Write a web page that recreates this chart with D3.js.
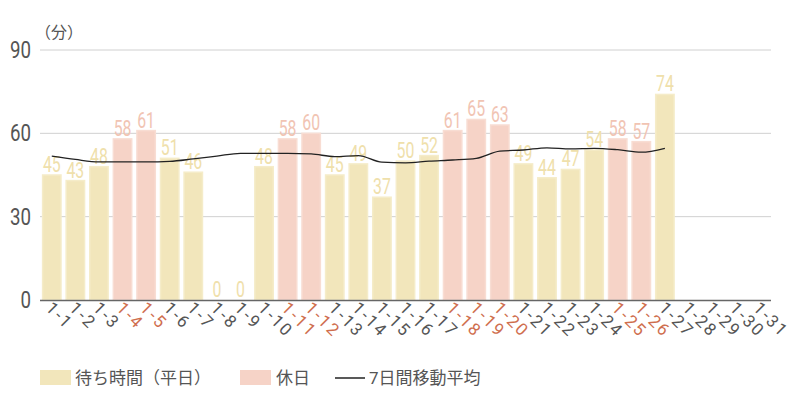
<!DOCTYPE html>
<html>
<head>
<meta charset="utf-8">
<script src="https://cdn.jsdelivr.net/npm/d3@7"></script>
<style>
  body { margin: 0; background: #fff; }
  svg { display: block; font-family: Roboto, "Noto Sans CJK JP", sans-serif; }
</style>
</head>
<body>
<svg id="chart" width="800" height="400"></svg>
<script>
// 1月の日付
const days = d3.range(1, 32).map(d => `1-${d}`)
const holidays = ['1-4', '1-5', '1-11', '1-12', '1-18', '1-19', '1-20', '1-25', '1-26']
// 待ち時間（分）
const waitTimes = [45, 43, 48, 58, 61, 51, 46, 0, 0, 48, 58, 60, 45, 49, 37, 50, 52, 61, 65, 63, 49, 44, 47, 54, 58, 57, 74]
// 7日間移動平均
const movingAvg = [51.8, 50.6, 49.7, 49.7, 49.7, 49.9, 50.8, 51.8, 52.8, 52.8, 52.8, 52.6, 51.6, 52.0, 49.6, 49.4, 50.0, 50.4, 51.0, 53.6, 54.0, 54.8, 54.4, 54.6, 54.1, 53.2, 54.6]
const yTicks = [0, 30, 60, 90]

const svg = d3.select('#chart')
const margin = { left: 40, right: 29, top: 50, bottom: 100 }

const x = d3.scaleBand()
    .domain(days)
    .range([margin.left, 800 - margin.right])
    .paddingInner(0.22)
    .paddingOuter(0.11)

const y = d3.scaleLinear()
    .domain([0, 90])
    .range([300, 50])

const isHoliday = d => holidays.includes(d)
const barColor = d => isHoliday(d) ? '#f6d3c7' : '#f2e6bb'
const labelColor = d => isHoliday(d) ? '#f1c4b3' : '#efe0ab'

// grid
svg.append('g')
  .selectAll('line')
  .data(yTicks.filter(t => t > 0))
  .join('line')
    .attr('x1', margin.left)
    .attr('x2', 800 - margin.right)
    .attr('y1', d => y(d))
    .attr('y2', d => y(d))
    .attr('stroke', '#d0d0d0')
    .attr('stroke-width', 1)

// y labels (condensed look)
svg.append('g')
  .selectAll('text')
  .data(yTicks)
  .join('text')
    .text(d => d)
    .attr('transform', d => `translate(31,${y(d) + 8}) scale(0.78,1)`)
    .attr('text-anchor', 'end')
    .attr('fill', '#555')
    .attr('font-size', 24)

svg.append('text')
    .text('（分）')
    .attr('x', 35)
    .attr('y', 38)
    .attr('fill', '#555')
    .attr('font-size', 16)

// bars
const barData = waitTimes.map((v, i) => [days[i], v])

svg.append('g')
  .selectAll('rect')
  .data(barData)
  .join('rect')
    .attr('x', d => x(d[0]))
    .attr('y', d => y(d[1]))
    .attr('width', x.bandwidth())
    .attr('height', d => y(0) - y(d[1]))
    .attr('fill', d => barColor(d[0]))
    .attr('stroke', d => isHoliday(d[0]) ? '#f8ddd3' : '#f5ecc9')
    .attr('stroke-width', 1.5)

// values
svg.append('g')
  .selectAll('text')
  .data(barData)
  .join('text')
    .text(d => d[1])
    .attr('transform', d => `translate(${x(d[0]) + x.bandwidth() / 2},${y(d[1]) - 3}) scale(0.72,1)`)
    .attr('text-anchor', 'middle')
    .attr('fill', d => labelColor(d[0]))
    .attr('font-size', 22)

// moving average
const line = d3.line()
    .x((d, i) => x(days[i]) + x.bandwidth() / 2)
    .y(d => y(d))
    .curve(d3.curveMonotoneX)

svg.append('path')
    .datum(movingAvg)
    .attr('d', line)
    .attr('fill', 'none')
    .attr('stroke', '#222')
    .attr('stroke-width', 1.3)

// x axis
svg.append('line')
    .attr('x1', margin.left)
    .attr('x2', 800 - margin.right)
    .attr('y1', 300.5)
    .attr('y2', 300.5)
    .attr('stroke', '#666')
    .attr('stroke-width', 1.5)

svg.append('g')
  .selectAll('text')
  .data(days)
  .join('text')
    .text(d => d)
    .attr('transform', d => `translate(${x(d) + x.bandwidth() / 2 - 7},309) rotate(45)`)
    .attr('fill', d => isHoliday(d) ? '#cf6e4e' : '#555')
    .attr('font-size', 17)
    .attr('letter-spacing', 2)

// legend
const legend = svg.append('g').attr('font-size', 17).attr('fill', '#555')
legend.append('rect').attr('x', 40).attr('y', 370).attr('width', 31).attr('height', 15).attr('fill', '#f2e6bb')
legend.append('text').attr('x', 75).attr('y', 384).text('待ち時間（平日）')
legend.append('rect').attr('x', 240).attr('y', 370).attr('width', 31).attr('height', 15).attr('fill', '#f6d3c7')
legend.append('text').attr('x', 276).attr('y', 384).text('休日')
legend.append('line').attr('x1', 335).attr('x2', 365).attr('y1', 378).attr('y2', 378).attr('stroke', '#222').attr('stroke-width', 1.5)
legend.append('text').attr('x', 369).attr('y', 384).text('7日間移動平均')
</script>
</body>
</html>
